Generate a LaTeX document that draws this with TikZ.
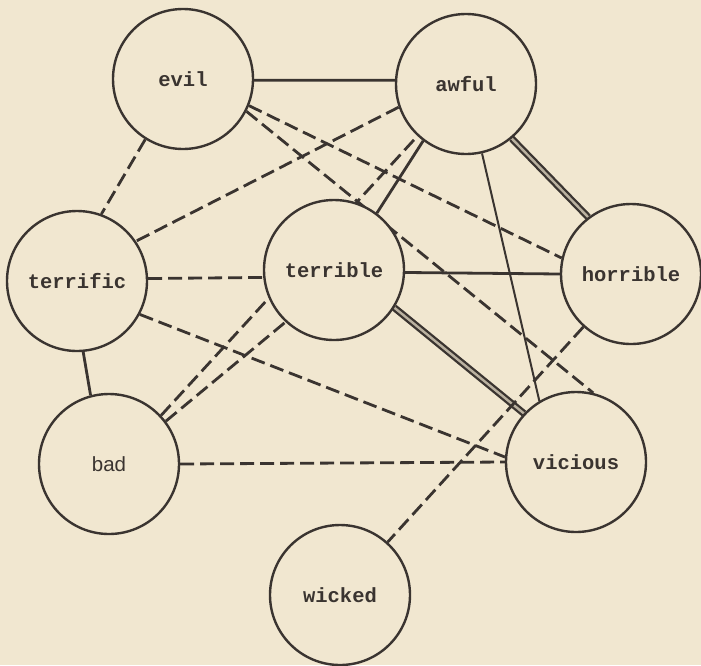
\documentclass[tikz,border=0pt]{standalone}
\usepackage{fontspec}
\setmonofont{Liberation Mono}
\newfontfamily\badfont{Liberation Sans}
\definecolor{paper}{HTML}{F1E7D0}
\definecolor{ink}{HTML}{3A3430}
\pgfdeclarelayer{paperlayer}
\pgfdeclarelayer{edges}
\pgfsetlayers{paperlayer,edges,main}
\tikzset{
  word/.style={circle, draw=ink, line width=2.4pt, fill=paper, minimum size=140pt, inner sep=0pt,
    text=ink, font=\ttfamily\bfseries\fontsize{20.5}{24}\selectfont},
  solidlink/.style={draw=ink, line width=2.8pt},
  thinlink/.style={draw=ink, line width=2pt},
  dashlink/.style={draw=ink, line width=2.8pt, dash pattern=on 14pt off 6pt},
  raillink/.style={draw=ink, double=paper!70!ink, double distance=2.4pt, line width=2.3pt}
}
\begin{document}
\begin{tikzpicture}[x=1pt,y=-1pt]
\begin{pgfonlayer}{paperlayer}
\fill[paper] (0,0) rectangle (701,665);
\end{pgfonlayer}
\useasboundingbox (0,0) rectangle (701,665);
\node[word] (evil) at (183,79) {evil};
\node[word] (awful) at (466,84) {awful};
\node[word] (terrific) at (77,281) {terrific};
\node[word] (terrible) at (334,270) {terrible};
\node[word] (horrible) at (631,274) {horrible};
\node[word] (bad) at (109,464) {\badfont\mdseries bad};
\node[word] (vicious) at (576,462) {vicious};
\node[word] (wicked) at (340,595) {wicked};
\begin{pgfonlayer}{edges}
\draw[solidlink] (evil.-1) -- (awful.177);
\draw[dashlink] (evil.-122) -- (terrific.70);
\draw[dashlink] (evil.-22) -- (horrible.167);
\draw[dashlink] (evil.-27) -- (vicious.76);
\draw[dashlink] (awful.199) -- (terrific.34);
\draw[solidlink] (awful.-127) -- (terrible.53);
\draw[dashlink] (bad.43) -- (awful.-133);
\draw[dashlink] (bad.37) -- (terrible.-133);
\draw[raillink] (awful.-50) -- (horrible.127);
\draw[thinlink] (awful.-77) -- (vicious.121);
\draw[dashlink] (terrific.2) -- (terrible.186);
\draw[solidlink] (terrific.-85) -- (bad.105);
\draw[dashlink] (terrific.-28) -- (vicious.176);
\draw[solidlink] (terrible.-2) -- (horrible.180);
\draw[raillink] (terrible.-32) -- (vicious.137);
\draw[dashlink] (horrible.-132) -- (wicked.48);
\draw[dashlink] (bad.0) -- (vicious.180);
\end{pgfonlayer}
\end{tikzpicture}
\end{document}
